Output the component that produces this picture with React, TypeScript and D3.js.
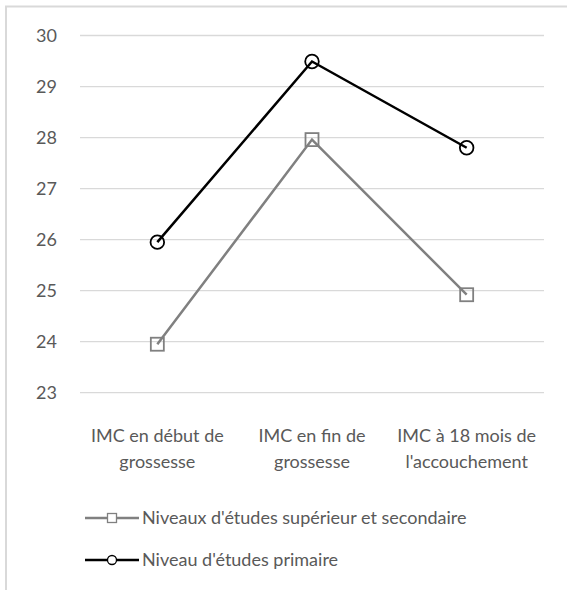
import React from "react";
import * as d3 from "d3";

const categories = [
  ["IMC en début de", "grossesse"],
  ["IMC en fin de", "grossesse"],
  ["IMC à 18 mois de", "l'accouchement"],
];
const seriesNames = [
  "Niveaux d'études supérieur et secondaire",
  "Niveau d'études primaire",
];
const secondaryValues = [23.95, 27.96, 24.92];
const primaryValues = [25.95, 29.49, 27.8];
const yTicks = [23, 24, 25, 26, 27, 28, 29, 30];

const W = 567;
const H = 590;
const FONT = "Lato, 'Open Sans', sans-serif";
const TEXT = "#595959";
const GRAY = "#808080";
const BLACK = "#000000";

export default function App() {
  const x = d3.scaleBand<number>().domain([0, 1, 2]).range([80, 544]);
  const y = d3.scaleLinear().domain([23, 30]).range([392.7, 35.5]);
  const cx = (i: number) => (x(i) as number) + x.bandwidth() / 2;
  const line = d3
    .line<number>()
    .x((_, i) => cx(i))
    .y((d) => y(d));

  const sq = 13;
  const r = 6.8;

  return (
    <svg
      width={W}
      height={H}
      style={{ position: "absolute", left: 0, top: 0, background: "#fff" }}
      fontFamily={FONT}
    >
      <rect x={0} y={0} width={W} height={H} fill="#fff" />
      <rect x={6} y={6.5} width={700} height={700} fill="none" stroke="#d9d9d9" strokeWidth={2} />
      {yTicks.map((t) => (
        <g key={t}>
          <line x1={80} x2={544} y1={y(t)} y2={y(t)} stroke="#d9d9d9" strokeWidth={1.3} />
          <text x={57} y={y(t)} dy="0.35em" textAnchor="end" fontSize={18} fill={TEXT}>
            {t}
          </text>
        </g>
      ))}
      {categories.map((c, i) => (
        <text key={i} x={cx(i)} textAnchor="middle" fontSize={18} fill={TEXT}>
          <tspan x={cx(i)} y={442}>{c[0]}</tspan>
          <tspan x={cx(i)} y={468}>{c[1]}</tspan>
        </text>
      ))}
      <path d={line(secondaryValues) || ""} fill="none" stroke={GRAY} strokeWidth={2.5} />
      {secondaryValues.map((v, i) => (
        <rect key={i} x={cx(i) - sq / 2} y={y(v) - sq / 2} width={sq} height={sq} fill="none" stroke={GRAY} strokeWidth={1.8} />
      ))}
      <path d={line(primaryValues) || ""} fill="none" stroke={BLACK} strokeWidth={2.5} />
      {primaryValues.map((v, i) => (
        <circle key={i} cx={cx(i)} cy={y(v)} r={r} fill="none" stroke={BLACK} strokeWidth={1.8} />
      ))}
      {/* legend */}
      <g>
        <line x1={85} x2={139} y1={518} y2={518} stroke={GRAY} strokeWidth={2.5} />
        <rect x={112 - 4.5} y={518 - 4.5} width={9} height={9} fill="#fff" stroke={GRAY} strokeWidth={1.3} />
        <text x={142} y={518} dy="0.35em" fontSize={18} fill={TEXT}>{seriesNames[0]}</text>
        <line x1={85} x2={139} y1={560} y2={560} stroke={BLACK} strokeWidth={2.5} />
        <circle cx={112} cy={560} r={4.5} fill="#fff" stroke={BLACK} strokeWidth={1.3} />
        <text x={142} y={560} dy="0.35em" fontSize={18} fill={TEXT}>{seriesNames[1]}</text>
      </g>
    </svg>
  );
}
